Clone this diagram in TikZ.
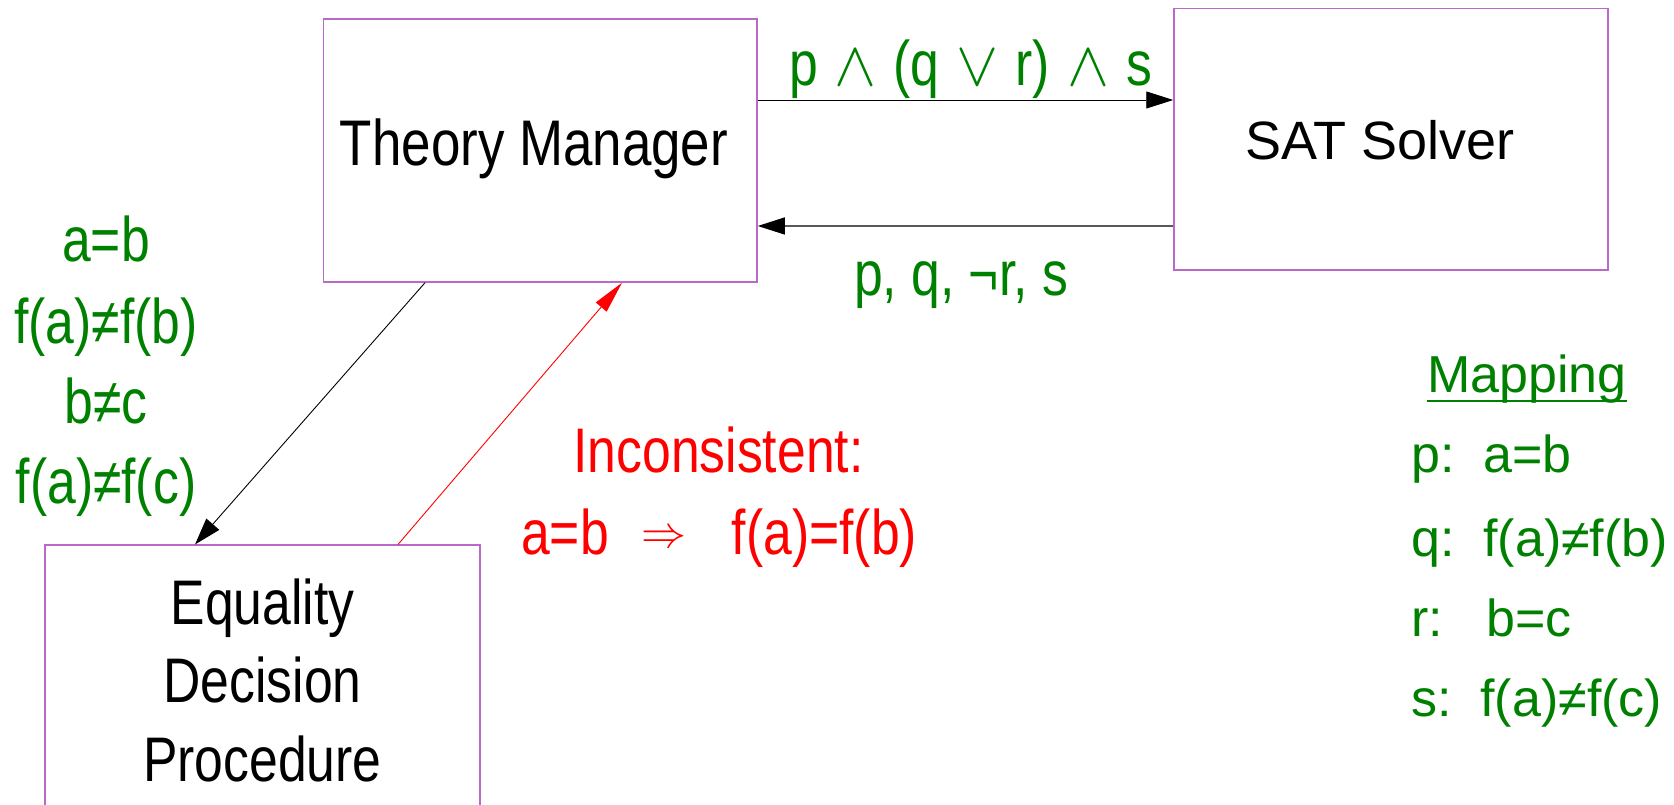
\documentclass[tikz,border=0pt]{standalone}
\usepackage{graphicx}
\usepackage{fontspec}
\setmainfont{Liberation Sans}
\newfontfamily\nf[FakeStretch=0.82]{Liberation Sans}
\usetikzlibrary{arrows.meta}
\definecolor{boxc}{RGB}{185,105,200}
\definecolor{gr}{RGB}{0,128,0}
\definecolor{rd}{RGB}{255,0,0}
\newcommand{\gapsp}{\hspace{17pt}}
\newcommand{\bigand}{\scalebox{6.3}{\fontsize{10}{12}\selectfont$\wedge$}}
\newcommand{\bigor}{\scalebox{6.3}{\fontsize{10}{12}\selectfont$\vee$}}
\newcommand{\bigimpl}{\raisebox{7pt}{\scalebox{4.5}{\fontsize{10}{12}\selectfont$\Rightarrow$}}}
\begin{document}
\begin{tikzpicture}[x=1pt,y=1pt,
  boxnode/.style={draw=boxc, line width=1.5pt, rectangle, inner sep=0pt},
  nt/.style={font=\nf\fontsize{63}{70}\selectfont, inner sep=0pt},
  rt/.style={font=\fontsize{52}{60}\selectfont, inner sep=0pt},
  arr/.style={-{Triangle[length=27pt,width=17pt,color=black]}, line width=0.9pt},
]
\useasboundingbox (0,0) rectangle (1674,805);
% boxes
\node[boxnode, minimum width=433.5pt, minimum height=263pt] (tm) at (540.25,654.5) {};
\node[nt, font=\nf\fontsize{64.5}{70}\selectfont, anchor=base] (tmtext) at (534,639) {Theory Manager};
\node[boxnode, minimum width=434pt, minimum height=261.5pt] (sat) at (1391,665.75) {};
\node[rt, font=\fontsize{54}{60}\selectfont, anchor=base] (sattext) at (1380,645) {SAT Solver};
\node[boxnode, minimum width=435pt, minimum height=300pt, anchor=north] (edp) at (262.5,260.5) {};
\node[nt, anchor=base] (eq1) at (262.5,180.5) {Equality};
\node[nt, anchor=base] (eq2) at (262.5,102.5) {Decision};
\node[nt, anchor=base] (eq3) at (262.5,23.5) {Procedure};
% left labels
\node[nt, text=gr, anchor=base] (l1) at (106,543.4) {a=b};
\node[nt, text=gr, anchor=base] (l2) at (106,461.2) {f(a)≠f(b)};
\node[nt, text=gr, anchor=base] (l3) at (106,381.2) {b≠c};
\node[nt, text=gr, anchor=base] (l4) at (106,301) {f(a)≠f(c)};
% inconsistent
\node[nt, text=rd, anchor=base] (inc) at (718.5,332) {Inconsistent:};
\node[nt, text=rd, anchor=base west] (impl) at (521,250) {a=b\hspace{33pt}\bigimpl\hspace{45pt}f(a)=f(b)};
% arrow labels
\node[nt, text=gr, anchor=base] (lab1) at (970.5,719.6) {p\gapsp\bigand\gapsp(q\gapsp\bigor\gapsp r)\gapsp\bigand\gapsp s};
\node[nt, text=gr, anchor=base] (lab2) at (961,509.3) {p, q, ¬r, s};
% mapping
\node[rt, text=gr, anchor=base west] (map) at (1427,412) {Mapping};
\draw[gr, line width=2.5pt] ([yshift=-8pt]map.base west) -- ([yshift=-8pt]map.base east);
\node[rt, text=gr, anchor=base west] (m1) at (1411,332) {p:\ \ a=b};
\node[rt, text=gr, anchor=base west] (m2) at (1411,248) {q:\ \ f(a)≠f(b)};
\node[rt, text=gr, anchor=base west] (m3) at (1411,168) {r:\ \ \ b=c};
\node[rt, text=gr, anchor=base west] (m4) at (1411,88) {s:\ \ f(a)≠f(c)};
% connectors
\coordinate (ya) at (0,705);
\coordinate (yb) at (0,579);
\draw[arr] (ya -| tm.east) -- (ya -| sat.west);
\draw[arr, draw=black!65, line width=1.2pt] (yb -| sat.west) -- (yb -| tm.east);
\coordinate (xa) at (425,0);
\coordinate (xb) at (195,0);
\coordinate (xc) at (398,0);
\coordinate (xd) at (622,0);
\draw[arr] (xa |- tm.south) -- (xb |- edp.north);
\draw[rd, line width=0.9pt, -{Triangle[length=32pt,width=14pt]}] (xc |- edp.north) -- (xd |- tm.south);
\end{tikzpicture}
\end{document}
